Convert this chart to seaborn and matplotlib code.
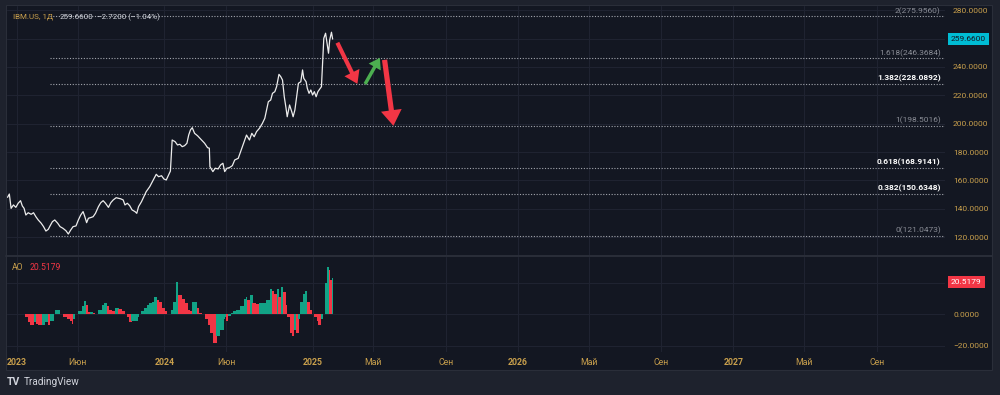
import numpy as np
import matplotlib
matplotlib.use("Agg")
import matplotlib.pyplot as plt
import matplotlib.transforms as mtransforms
from matplotlib.patches import Rectangle
from matplotlib.lines import Line2D
import seaborn as sns

# -----------------------------------------------
# IBM.US daily + Awesome Oscillator, fib extension
# x axis = trading-session index (0 = first session of 2023),
# future area counted in calendar days like TradingView does
# -----------------------------------------------

price_bar = [-16, -13, -10, -6, -2, 2, 6, 9, 12, 15, 19, 24, 28, 32, 36, 41, 45, 49, 53, 56,
             60, 64, 69, 73, 78, 83, 87, 91, 95, 100, 104, 108, 112, 115, 118, 121, 125, 129,
             133, 138, 142, 146, 150, 155, 159, 163, 168, 172, 176, 180, 183, 187, 191, 195,
             200, 203, 206, 211, 215, 219, 225, 231, 236, 240, 245, 249, 253, 257, 260, 263,
             268, 272, 276, 280, 284, 288, 291, 294, 297, 301, 306, 310, 314, 318, 323, 326,
             327, 332, 336, 341, 345, 349, 352, 356, 360, 365, 369, 375, 381, 385, 389, 394,
             398, 402, 406, 411, 416, 420, 423, 426, 430, 433, 437, 440, 444, 447, 450, 453,
             456, 458, 462, 466, 468, 471, 474, 477, 481, 484, 486, 490, 492, 495, 498, 501,
             504, 507, 510, 512, 516, 520, 523, 526, 528, 530, 533, 535]
price_close = [148.1, 150.4, 140.3, 142.7, 141.0, 143.9, 145.7, 142.0, 140.3, 135.6, 137.2,
               136.1, 137.2, 134.4, 132.1, 129.8, 127.4, 124.3, 125.5, 127.9, 130.9, 132.1,
               129.8, 127.4, 126.2, 124.5, 122.2, 125.0, 127.4, 127.9, 132.1, 135.6, 138.0,
               134.4, 130.2, 133.3, 133.8, 134.4, 136.8, 141.5, 144.3, 145.7, 143.9, 141.0,
               144.3, 146.2, 147.8, 147.4, 147.0, 146.2, 142.7, 143.9, 142.2, 139.2, 138.0,
               136.8, 141.5, 145.0, 148.5, 152.1, 155.6, 160.3, 164.3, 162.6, 163.3, 161.0,
               160.3, 163.8, 166.6, 188.5, 187.3, 185.0, 185.5, 183.8, 184.5, 186.2, 192.0,
               195.6, 197.2, 193.2, 191.5, 189.7, 187.8, 186.2, 183.1, 182.7, 169.7, 166.2,
               168.6, 168.1, 170.9, 172.1, 166.2, 168.6, 169.0, 170.4, 174.4, 175.6, 182.7,
               187.3, 192.0, 188.5, 193.2, 190.8, 194.4, 196.8, 200.3, 203.8, 209.7, 215.5,
               216.7, 221.4, 222.6, 226.1, 234.8, 233.2, 230.8, 219.0, 210.9, 204.9, 213.2,
               208.0, 204.9, 209.7, 219.0, 228.5, 229.6, 237.9, 232.0, 229.6, 225.0, 221.4,
               223.8, 220.2, 222.6, 219.0, 222.6, 223.8, 226.1, 260.2, 263.8, 255.5, 249.7,
               259.0, 264.5, 259.66]

ao_bar = [9, 14, 19, 22, 28, 33, 36, 42, 47, 53, 56, 62, 64, 68, 73, 78, 84, 90, 93, 95, 98, 104,
          110, 114, 117, 120, 124, 128, 132, 138, 144, 147, 152, 156, 161, 166, 172, 177, 182, 186,
          190, 194, 200, 205, 207, 211, 216, 220, 224, 228, 232, 237, 241, 245, 250, 254, 256, 261,
          264, 269, 273, 279, 285, 290, 293, 296, 300, 305, 309, 313, 319, 323, 327, 333, 338, 344,
          350, 353, 355, 358, 362, 366, 372, 378, 384, 388, 390, 395, 399, 405, 411, 416, 422, 428,
          432, 436, 440, 443, 447, 451, 456, 458, 462, 466, 469, 473, 477, 480, 484, 488, 492, 497,
          499, 503, 508, 511, 515, 519, 522, 525, 528, 531, 534, 535]
ao_value = [0.0, -2.0, -5.0, -7.0, -5.0, -6.0, -7.0, -7.0, -5.0, -7.0, -4.0, 0.0, 2.5, 3.0, 0.0,
            -1.5, -3.0, -4.0, -6.0, -3.0, 0.0, 2.0, 5.0, 8.5, 6.0, 1.5, 1.5, 0.5, 0.3, 2.5, 6.0,
            7.0, 5.0, 3.0, 2.0, 4.0, 3.5, 2.0, 0.0, -2.0, -5.0, -4.5, -4.0, -2.0, 0.0, 2.0, 4.0,
            6.0, 7.0, 8.0, 11.0, 9.0, 8.0, 4.0, 2.0, 0.0, 0.3, 3.0, 8.0, 20.5, 12.0, 10.0, 7.0,
            3.0, 2.0, 8.0, 8.0, 4.0, 1.0, 0.0, -3.0, -7.0, -12.0, -18.0, -14.0, -10.0, -3.0,
            -2.0, -4.0, -1.0, 1.0, 2.0, 3.0, 5.0, 10.0, 11.0, 9.0, 12.0, 7.0, 6.5, 7.0, 7.0,
            9.0, 16.0, 15.0, 13.0, 16.0, 11.0, 17.0, 14.0, 6.0, -2.0, -12.0, -14.0, -10.0,
            -12.0, -3.0, 8.0, 13.0, 15.0, 8.0, 3.0, 0.0, -2.0, -4.0, -7.0, -3.0, 0.0, 20.0,
            30.0, 28.0, 22.0, 23.0, 20.5179]

fib_levels = [0, 0.382, 0.618, 1, 1.382, 1.618, 2]
fib_prices = [121.0473, 150.6348, 168.9141, 198.5016, 228.0892, 246.3684, 275.9560]
fib_bold = [False, True, True, False, True, False, False]
fib_start_bar = 56

# drawn arrows: (bar, price) tail -> head
arrow_tail = [(543, 257.1), (590, 228.0), (623, 245.0)]
arrow_head = [(577, 228.1), (615, 246.4), (638, 198.5)]
arrow_color = ["#f23645", "#4caf50", "#f23645"]
arrow_scale = [12, 10, 15]

tick_dates = ["2023-01-01", "2023-06-01", "2024-01-01", "2024-06-01", "2025-01-01",
              "2025-05-01", "2025-09-01", "2026-01-01", "2026-05-01", "2026-09-01",
              "2027-01-01", "2027-05-01", "2027-09-01"]
tick_labels = ["2023", "Июн", "2024", "Июн", "2025", "Май", "Сен", "2026", "Май", "Сен",
               "2027", "Май", "Сен"]

nyse_holidays = ["2023-01-02", "2023-01-16", "2023-02-20", "2023-04-07", "2023-05-29",
                 "2023-06-19", "2023-07-04", "2023-09-04", "2023-11-23", "2023-12-25",
                 "2024-01-01", "2024-01-15", "2024-02-19", "2024-03-29", "2024-05-27",
                 "2024-06-19", "2024-07-04", "2024-09-02", "2024-11-28", "2024-12-25",
                 "2025-01-01", "2025-01-09", "2025-01-20", "2025-02-17"]
ORIGIN = np.datetime64("2023-01-01")
LAST_DAY = np.datetime64("2025-02-21")
LAST_BAR = int(np.busday_count(ORIGIN, LAST_DAY, holidays=nyse_holidays))


def to_bar(d):
    d = np.datetime64(d)
    if d <= LAST_DAY:
        return int(np.busday_count(ORIGIN, d, holidays=nyse_holidays))
    return LAST_BAR + int((d - LAST_DAY).astype(int))


BG = "#131722"
OUTER = "#1e222d"
GRID = "#1f2331"
GOLD = "#c89f4c"
TXT = "#d1d4dc"
GREEN = "#12a386"
RED = "#f23645"

sns.set_theme(style="dark")
plt.rcParams["font.family"] = ["Roboto", "DejaVu Sans"]

W, H = 1000, 395
fig = plt.figure(figsize=(W / 100, H / 100), dpi=100, facecolor=OUTER)


def fx(x):
    return x / W


def fy(y):
    return (H - y) / H


fig.patches.append(Rectangle((fx(6), fy(370)), fx(986), 365 / H, transform=fig.transFigure,
                             fc=BG, ec="#2a2e39", lw=0.8, zorder=-5))

ax = fig.add_axes([fx(7), fy(255), fx(938), 249 / H])
ax_ao = fig.add_axes([fx(7), fy(352), fx(938), 95 / H], sharex=ax)

x_left = (7 - 17) / 0.59
x_right = (945 - 17) / 0.59

# ----------------- price pane -----------------
ax.set_facecolor(BG)
sns.lineplot(x=price_bar, y=price_close, ax=ax, color="#ececec", lw=0.9, zorder=4)
ax.set_xlim(x_left, x_right)
ax.set_ylim(107.4, 283.0)
price_ticks = np.arange(120, 281, 20)
ax.set_yticks(price_ticks)
# the 260 label sits under the last-price box, as on the original
ax.set_yticklabels(["" if v == 260 else f"{v:.4f}" for v in price_ticks])
ax.yaxis.tick_right()
ax.tick_params(axis="y", length=0, pad=5.8, labelsize=6, labelcolor=GOLD)
ax.tick_params(axis="x", length=0, labelbottom=False)
ax.set_xticks([to_bar(d) for d in tick_dates])
ax.grid(True, color=GRID, lw=0.8)
ax.set_xlabel("")
ax.set_ylabel("")
for s in ax.spines.values():
    s.set_visible(False)

ax.hlines(fib_prices, fib_start_bar, x_right, colors="#a3a6ae", linestyles=(0, (1, 1.5)),
          lw=0.8, zorder=3)
for lvl, p, bold in zip(fib_levels, fib_prices, fib_bold):
    ax.annotate(f"{lvl:g}({p:.4f})", xy=(x_right, p), xytext=(-3, 1.0),
                textcoords="offset points", ha="right", va="bottom", fontsize=6,
                color="#ffffff" if bold else "#8a8d96",
                fontweight="bold" if bold else "normal", clip_on=True, zorder=5)

for (x0, y0), (x1, y1), c, ms in zip(arrow_tail, arrow_head, arrow_color, arrow_scale):
    ax.annotate("", xy=(x1, y1), xytext=(x0, y0),
                arrowprops=dict(arrowstyle="simple,head_length=0.75,head_width=1.0,tail_width=0.25",
                                color=c, mutation_scale=ms, shrinkA=0, shrinkB=0, lw=0))

blend = mtransforms.blended_transform_factory(ax.transAxes, ax.transData)
ax.text(1.0 + 6 / 938, price_close[-1], f"{price_close[-1]:.4f}", transform=blend,
        ha="left", va="center", fontsize=6, color="#131722",
        bbox=dict(boxstyle="square,pad=0.35", fc="#00bcd4", ec="none"), clip_on=False)

# ----------------- AO pane -----------------
ax_ao.set_facecolor(BG)
bars = np.array(ao_bar)
vals = np.array(ao_value)
widths = np.diff(bars, append=bars[-1] + 1)
prev = np.concatenate([[0.0], vals[:-1]])
colors = [GREEN if v >= pv else RED for v, pv in zip(vals, prev)]
ax_ao.bar(bars, vals, width=widths + 0.3, align="edge", color=colors, lw=0, zorder=3)
ax_ao.set_ylim(-23.9, 36.3)
ax_ao.set_yticks([-20, 0, 20])
ax_ao.set_yticklabels(["−20.0000", "0.0000", ""])
ax_ao.yaxis.tick_right()
ax_ao.tick_params(axis="y", length=0, pad=5.8, labelsize=6, labelcolor=GOLD)
ax_ao.set_xticks([to_bar(d) for d in tick_dates])
ax_ao.set_xticklabels(tick_labels)
ax_ao.tick_params(axis="x", length=0, pad=4.0, labelsize=6.3, labelcolor=GOLD)
for lab in ax_ao.get_xticklabels():
    if lab.get_text().isdigit():
        lab.set_fontweight("bold")
ax_ao.grid(True, color=GRID, lw=0.8)
for s in ax_ao.spines.values():
    s.set_visible(False)
ax_ao.set_xlim(x_left, x_right)

blend_ao = mtransforms.blended_transform_factory(ax_ao.transAxes, ax_ao.transData)
ax_ao.text(1.0 + 6 / 938, vals[-1], f"{vals[-1]:.4f}", transform=blend_ao,
           ha="left", va="center", fontsize=6, color="#ffffff",
           bbox=dict(boxstyle="square,pad=0.35", fc=RED, ec="none"), clip_on=False)

# pane separator
fig.lines.append(Line2D([fx(6), fx(992)], [fy(256), fy(256)], transform=fig.transFigure,
                        color="#2a2e39", lw=1.4))

# ----------------- legends / texts -----------------
t = fig.text(fx(13), fy(17), "IBM.US, 1Д", fontsize=5.8, color=GOLD, va="center")
t2 = ax.annotate("259.6600", xy=(1, 0.5), xycoords=t, xytext=(4.5, 0),
                 textcoords="offset points", fontsize=5.8, color=TXT, va="center",
                 annotation_clip=False)
ax.annotate("−2.7200 (−1.04%)", xy=(1, 0.5), xycoords=t2, xytext=(3, 0),
            textcoords="offset points", fontsize=5.8, color=TXT, va="center",
            annotation_clip=False)

a = fig.text(fx(12), fy(267), "AO", fontsize=6.2, color=GOLD, va="center")
ax_ao.annotate("20.5179", xy=(1, 0.5), xycoords=a, xytext=(4.5, 0),
               textcoords="offset points", fontsize=6.2, color=RED, va="center",
               annotation_clip=False)

fig.text(fx(7), fy(382), "TV", fontsize=7.5, color=TXT, va="center", fontweight="bold")
fig.text(fx(24), fy(382), "TradingView", fontsize=7.2, color=TXT, va="center")

fig.savefig("out.png", dpi=100, facecolor=OUTER)
